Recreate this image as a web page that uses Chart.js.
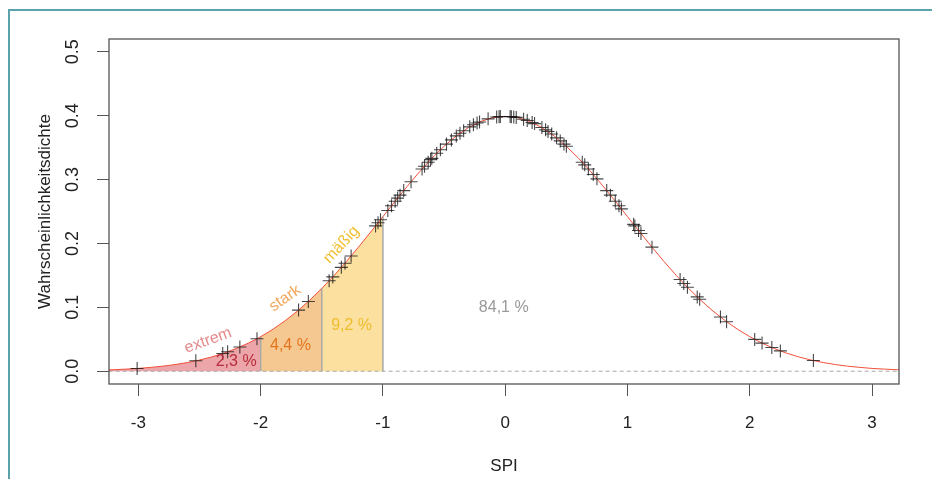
<!DOCTYPE html>
<html>
<head>
<meta charset="utf-8">
<script src="https://cdn.jsdelivr.net/npm/chart.js@4/dist/chart.umd.min.js"></script>
<style>
  html, body { margin: 0; padding: 0; background: #fff; }
  #wrap { width: 932px; height: 479px; }
</style>
</head>
<body>
<div id="wrap"><canvas id="spi-chart" width="932" height="479"></canvas></div>
<script>
// Dichtekurve (Standardnormalverteilung)
const curveX = [-3.3, -3.2, -3.1, -3.0, -2.9, -2.8, -2.7, -2.6, -2.5, -2.4, -2.3, -2.2, -2.1, -2.0,
    -1.9, -1.8, -1.7, -1.6, -1.5, -1.4, -1.3, -1.2, -1.1, -1.0, -0.9, -0.8, -0.7, -0.6, -0.5,
    -0.4, -0.3, -0.2, -0.1, 0.0, 0.1, 0.2, 0.3, 0.4, 0.5, 0.6, 0.7, 0.8, 0.9, 1.0, 1.1, 1.2,
    1.3, 1.4, 1.5, 1.6, 1.7, 1.8, 1.9, 2.0, 2.1, 2.2, 2.3, 2.4, 2.5, 2.6, 2.7, 2.8, 2.9, 3.0,
    3.1, 3.2, 3.3];
const curveY = [0.0017, 0.0024, 0.0033, 0.0044, 0.0060, 0.0079, 0.0104, 0.0136, 0.0175, 0.0224,
    0.0283, 0.0355, 0.0440, 0.0540, 0.0656, 0.0790, 0.0940, 0.1109, 0.1295, 0.1497, 0.1714,
    0.1942, 0.2179, 0.2420, 0.2661, 0.2897, 0.3123, 0.3332, 0.3521, 0.3683, 0.3814, 0.3910,
    0.3970, 0.3989, 0.3970, 0.3910, 0.3814, 0.3683, 0.3521, 0.3332, 0.3123, 0.2897, 0.2661,
    0.2420, 0.2179, 0.1942, 0.1714, 0.1497, 0.1295, 0.1109, 0.0940, 0.0790, 0.0656, 0.0540,
    0.0440, 0.0355, 0.0283, 0.0224, 0.0175, 0.0136, 0.0104, 0.0079, 0.0060, 0.0044, 0.0033,
    0.0024, 0.0017];

// beobachtete SPI-Werte (Kreuze)
const spiX = [-3.01, -2.53, -2.31, -2.27, -2.17, -2.03, -1.69, -1.61, -1.44, -1.41, -1.34, -1.31,
    -1.26, -1.06, -1.04, -1.02, -0.96, -0.93, -0.90, -0.88, -0.86, -0.83, -0.77, -0.68, -0.66,
    -0.63, -0.61, -0.60, -0.56, -0.53, -0.48, -0.44, -0.40, -0.37, -0.34, -0.29, -0.26, -0.23,
    -0.21, -0.14, -0.07, -0.05, -0.04, 0.04, 0.05, 0.07, 0.09, 0.15, 0.18, 0.22, 0.24, 0.30,
    0.33, 0.35, 0.38, 0.42, 0.45, 0.48, 0.50, 0.63, 0.65, 0.68, 0.72, 0.75, 0.83, 0.86, 0.90,
    0.93, 0.95, 1.05, 1.06, 1.09, 1.11, 1.20, 1.43, 1.46, 1.49, 1.57, 1.59, 1.76, 1.81, 2.04,
    2.10, 2.18, 2.25, 2.52];
const spiY = [0.0043, 0.0163, 0.0277, 0.0304, 0.0379, 0.0509, 0.0957, 0.1092, 0.1415, 0.1476,
    0.1626, 0.1691, 0.1804, 0.2275, 0.2323, 0.2372, 0.2516, 0.2589, 0.2661, 0.2709, 0.2756,
    0.2827, 0.2966, 0.3166, 0.3209, 0.3271, 0.3312, 0.3332, 0.3411, 0.3467, 0.3555, 0.3621,
    0.3683, 0.3725, 0.3765, 0.3825, 0.3857, 0.3885, 0.3902, 0.3950, 0.3980, 0.3984, 0.3986,
    0.3986, 0.3984, 0.3980, 0.3973, 0.3945, 0.3925, 0.3894, 0.3876, 0.3814, 0.3778, 0.3752,
    0.3712, 0.3653, 0.3605, 0.3555, 0.3521, 0.3271, 0.3230, 0.3166, 0.3079, 0.3011, 0.2827,
    0.2756, 0.2661, 0.2589, 0.2541, 0.2299, 0.2275, 0.2203, 0.2155, 0.1942, 0.1435, 0.1374,
    0.1315, 0.1163, 0.1127, 0.0848, 0.0775, 0.0498, 0.0440, 0.0371, 0.0318, 0.0167];

// Klassengrenzen und Flächenanteile
const classBounds = [-2.0, -1.5, -1.0];
const classHeights = [0.0540, 0.1295, 0.2420];
const classNames = ['extrem', 'stark', 'mäßig'];
const classShares = ['2,3 %', '4,4 %', '9,2 %'];
const restShare = '84,1 %';

const xTicks = [-3, -2, -1, 0, 1, 2, 3];
const yTicks = [0.0, 0.1, 0.2, 0.3, 0.4, 0.5];

const FONT = 'Arial, "Liberation Sans", sans-serif';

function curvePts(from, to) {
    const pts = [];
    curveX.forEach((x, i) => {
        if (x >= from - 1e-9 && x <= to + 1e-9) pts.push({ x: x, y: curveY[i] });
    });
    return pts;
}

const fillColors = ['#eca6a9', '#f6c891', '#fbe0a0'];
const fillRanges = [[-3.3, classBounds[0]], [classBounds[0], classBounds[1]], [classBounds[1], classBounds[2]]];

const datasets = [
    {
        label: 'SPI',
        data: spiX.map((x, i) => ({ x: x, y: spiY[i] })),
        pointStyle: 'cross',
        pointRadius: 6.5,
        pointBorderWidth: 1.1,
        borderColor: 'rgba(20,20,20,0.78)',
        showLine: false,
        order: 0
    },
    {
        label: 'Dichte',
        data: curveX.map((x, i) => ({ x: x, y: curveY[i] })),
        showLine: true,
        borderColor: '#f2503c',
        borderWidth: 1,
        pointRadius: 0,
        tension: 0,
        order: 1
    },
    {
        label: 'Null',
        data: [{ x: -3.3, y: 0 }, { x: 3.3, y: 0 }],
        showLine: true,
        borderColor: '#aaaaaa',
        borderWidth: 1,
        borderDash: [4, 3],
        pointRadius: 0,
        order: 3
    }
];

classBounds.forEach((b, i) => {
    datasets.push({
        label: 'Grenze ' + b,
        data: [{ x: b, y: 0 }, { x: b, y: classHeights[i] }],
        showLine: true,
        borderColor: '#a9a9a9',
        borderWidth: 1.5,
        pointRadius: 0,
        order: 2
    });
});

fillRanges.forEach((r, i) => {
    datasets.push({
        label: classNames[i],
        data: curvePts(r[0], r[1]),
        showLine: true,
        fill: { value: 0 },
        backgroundColor: fillColors[i],
        borderWidth: 0,
        borderColor: 'rgba(0,0,0,0)',
        pointRadius: 0,
        order: 4
    });
});

function rotText(ctx, text, x, y, deg, color, size) {
    ctx.save();
    ctx.translate(x, y);
    ctx.rotate(deg * Math.PI / 180);
    ctx.fillStyle = color;
    ctx.font = size + 'px ' + FONT;
    ctx.textAlign = 'center';
    ctx.textBaseline = 'middle';
    ctx.fillText(text, 0, 0);
    ctx.restore();
}

const decor = {
    id: 'decor',
    beforeDraw(chart) {
        const ctx = chart.ctx;
        ctx.save();
        ctx.fillStyle = '#fff';
        ctx.fillRect(0, 0, chart.width, chart.height);
        ctx.strokeStyle = '#5aa3aa';
        ctx.lineWidth = 2;
        ctx.beginPath();
        ctx.moveTo(9, chart.height);
        ctx.lineTo(9, 10);
        ctx.lineTo(chart.width, 10);
        ctx.stroke();
        ctx.restore();
    },
    afterDraw(chart) {
        const ctx = chart.ctx;
        const a = chart.chartArea;
        const xs = chart.scales.x, ys = chart.scales.y;

        ctx.save();
        ctx.strokeStyle = '#555';
        ctx.lineWidth = 1.3;
        ctx.strokeRect(a.left, a.top, a.right - a.left, a.bottom - a.top);
        ctx.restore();

        yTicks.forEach(v => {
            rotText(ctx, v.toFixed(1), 73, ys.getPixelForValue(v), -90, '#222', 18);
        });
        rotText(ctx, 'Wahrscheinlichkeitsdichte', 45, (a.top + a.bottom) / 2, -90, '#222', 17);
        rotText(ctx, 'SPI', (a.left + a.right) / 2, 466, 0, '#222', 17);

        const P = (x, y) => [xs.getPixelForValue(x), ys.getPixelForValue(y)];
        let p;
        p = P(-2.43, 0.048); rotText(ctx, classNames[0], p[0], p[1], -20, '#e58a8c', 16);
        p = P(-1.80, 0.114); rotText(ctx, classNames[1], p[0], p[1], -35, '#f2a65a', 16);
        p = P(-1.34, 0.198); rotText(ctx, classNames[2], p[0], p[1], -47, '#f2c034', 16);
        p = P(-2.20, 0.0156); rotText(ctx, classShares[0], p[0], p[1], 0, '#b52c3c', 16);
        p = P(-1.756, 0.040); rotText(ctx, classShares[1], p[0], p[1], 0, '#e2751c', 16);
        p = P(-1.256, 0.071); rotText(ctx, classShares[2], p[0], p[1], 0, '#eebd2c', 16);
        p = P(-0.012, 0.0997); rotText(ctx, restShare, p[0], p[1], 0, '#999999', 16);
    }
};

new Chart(document.getElementById('spi-chart'), {
    type: 'scatter',
    data: { datasets: datasets },
    options: {
        responsive: false,
        animation: false,
        devicePixelRatio: 1,
        layout: { padding: { top: 39, right: 33, left: 0, bottom: 0 } },
        plugins: { legend: { display: false }, tooltip: { enabled: false } },
        scales: {
            x: {
                type: 'linear',
                min: -3.24,
                max: 3.22,
                afterBuildTicks: s => { s.ticks = xTicks.map(v => ({ value: v })); },
                afterFit: s => { s.height = 95; },
                border: { display: false },
                grid: { drawOnChartArea: false, drawTicks: true, tickLength: 12, color: '#555' },
                ticks: {
                    color: '#222',
                    padding: 17,
                    font: { family: FONT, size: 17 },
                    callback: v => String(v)
                }
            },
            y: {
                type: 'linear',
                min: -0.02,
                max: 0.52,
                afterBuildTicks: s => { s.ticks = yTicks.map(v => ({ value: v })); },
                afterFit: s => { s.width = 109; },
                border: { display: false },
                grid: { drawOnChartArea: false, drawTicks: true, tickLength: 12, color: '#555' },
                ticks: { display: false }
            }
        }
    },
    plugins: [decor]
});
</script>
</body>
</html>
